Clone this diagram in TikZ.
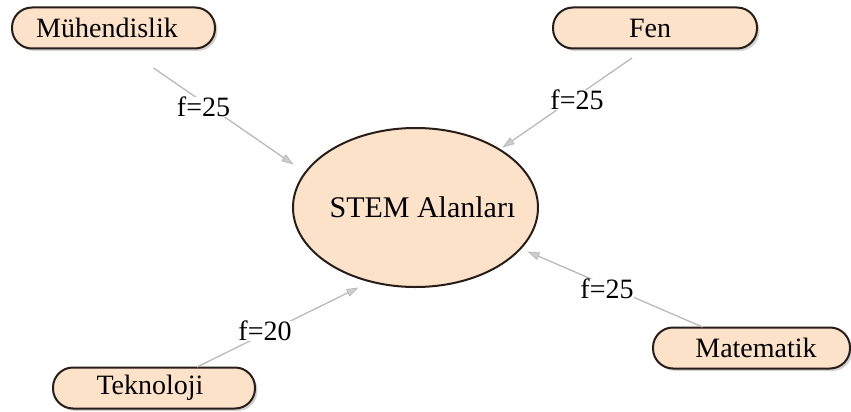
\documentclass[tikz,border=0pt]{standalone}
\usepackage{fontspec}
\setmainfont{Liberation Serif}
\usetikzlibrary{arrows.meta,shadows,shapes.geometric,calc}
\definecolor{peach}{RGB}{253,226,202}
\definecolor{edgedark}{RGB}{40,30,25}
\definecolor{linkgray}{RGB}{185,185,185}
\tikzset{
  field/.style={draw=edgedark, line width=2pt, fill=peach, rounded corners=20pt,
    minimum height=41pt, inner sep=0pt, font=\fontsize{28}{32}\selectfont,
    drop shadow={shadow xshift=2.5pt, shadow yshift=-2.5pt, opacity=0.35}},
  hub/.style={draw=edgedark, line width=2pt, fill=peach, ellipse,
    minimum width=245pt, minimum height=159pt, inner sep=0pt,
    font=\fontsize{30}{34}\selectfont},
  link/.style={draw=linkgray, line width=1.3pt,
    -{Triangle[length=12pt,width=8pt,fill=linkgray!70,line width=0.8pt]}},
  weight/.style={fill=white, inner sep=0.5pt, font=\fontsize{28}{32}\selectfont}
}
\begin{document}
\begin{tikzpicture}[x=1pt, y=-1pt]
  \useasboundingbox (0,0) rectangle (851,412);

  % central concept and its four fields
  \node[hub] (stem) at (415.5,207.5) {\makebox[0pt]{\hspace*{14pt}STEM Alanları}};
  \node[field, minimum width=203pt] (muh) at (113.5,28) {Mühendislik\hspace*{13pt}};
  \node[field, minimum width=204pt] (fen) at (655,28) {Fen\hspace*{10pt}};
  \node[field, minimum width=202pt] (tek) at (154,388) {Teknoloji\hspace*{8pt}};
  \node[field, minimum width=197pt] (mat) at (751.5,348) {\hspace*{9pt}Matematik};

  % weighted links into the centre
  \draw[link] ($(muh.south)+(40,18.5)$) -- ($(stem.center)+(-122,-43)$);
  \draw[link] ($(fen.south)+(-23,8.5)$) -- ($(stem.center)+(87,-60)$);
  \draw[link] ($(tek.north)+(43,0.5)$) -- ($(stem.center)+(-57,80)$);
  \draw[link] ($(mat.north)+(-49,0.5)$) -- ($(stem.center)+(112,44)$);

  % link weights
  \node[weight] (wm) at (203.5,107) {f=25};
  \node[weight] (wf) at (577,100) {f=25};
  \node[weight] (wt) at (265,331) {f=20};
  \node[weight] (wa) at (607,289) {f=25};
\end{tikzpicture}
\end{document}
